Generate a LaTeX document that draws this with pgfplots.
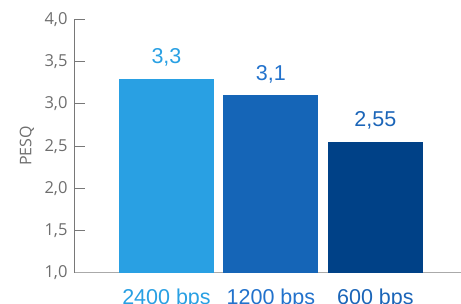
\documentclass[border=0pt]{standalone}
\usepackage{pgfplots}
\pgfplotsset{compat=1.18}
\usepackage{fontspec}
\setmainfont{Liberation Sans}
\newfontfamily\osans{Open Sans}
\definecolor{barA}{RGB}{41,160,227}
\definecolor{barB}{RGB}{21,101,183}
\definecolor{barC}{RGB}{0,65,135}
\definecolor{labA}{RGB}{41,160,227}
\definecolor{labB}{RGB}{34,114,204}
\definecolor{labC}{RGB}{27,101,184}
\definecolor{tickgray}{RGB}{110,110,110}
\begin{document}
\begin{tikzpicture}
\path[use as bounding box] (-75pt,-31.3pt) rectangle (386pt,272.7pt);
\begin{axis}[
  scale only axis,
  width=386pt, height=253.2pt,
  xmin=-0.876, xmax=2.82,
  ymin=1, ymax=4,
  ytick={1,1.5,2,2.5,3,3.5,4},
  xtick={0,1,2},
  xticklabels={\textcolor{labA}{2400 bps},\textcolor{labB}{1200 bps},\textcolor{labC}{600 bps}},
  axis x line*=bottom,
  axis y line*=left,
  x axis line style={draw={rgb,255:red,170;green,170;blue,170}, line width=1pt, -},
  y axis line style={draw={rgb,255:red,120;green,120;blue,120}, line width=1pt, -},
  major x tick style={draw=none},
  ytick align=inside,
  major tick length=10pt,
  major y tick style={draw={rgb,255:red,120;green,120;blue,120}, line width=0.8pt},
  /pgf/number format/assume math mode=true,
  yticklabel style={font=\osans\fontsize{16.5}{18}\selectfont, text=tickgray, xshift=-4pt,
    /pgf/number format/.cd, fixed, fixed zerofill, precision=1, use comma},
  xticklabel style={font=\fontsize{21.5}{24}\selectfont, anchor=base, yshift=-22.3pt},
  ylabel={PESQ},
  ylabel style={font=\osans\fontsize{16}{18}\selectfont, text=tickgray, at={(axis description cs:-0.1244,0.5)}, anchor=center},
  ybar, bar width=95pt, bar shift=0pt,
  nodes near coords={\pgfmathprintnumber[use comma]{\pgfplotspointmeta}},
  every node near coord/.append style={font=\fontsize{21.5}{24}\selectfont, anchor=base, yshift=15pt},
  clip=false,
]
\addplot[fill=barA, draw=none, every node near coord/.append style={text=labA}] coordinates {(0,3.3)};
\addplot[fill=barB, draw=none, every node near coord/.append style={text=labB}] coordinates {(1,3.1)};
\addplot[fill=barC, draw=none, every node near coord/.append style={text=labC}] coordinates {(2,2.55)};
\end{axis}
\end{tikzpicture}
\end{document}
